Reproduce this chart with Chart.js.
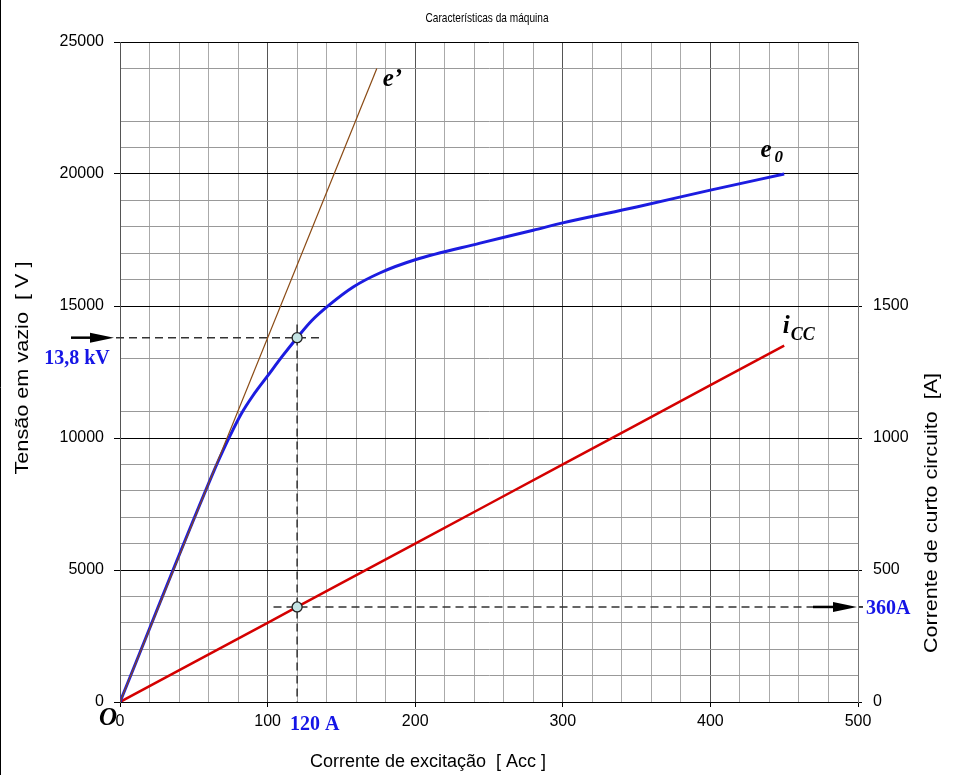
<!DOCTYPE html>
<html>
<head>
<meta charset="utf-8">
<title>Características da máquina</title>
<script src="https://cdn.jsdelivr.net/npm/chart.js@4.4.1/dist/chart.umd.min.js"></script>
<style>
  html, body { margin: 0; padding: 0; background: #fff; }
  #wrap { width: 959px; height: 775px; position: relative; }
</style>
</head>
<body>
<div id="wrap"><canvas id="machineChart"></canvas></div>
<script>
// curva de vazio e0 : corrente de excitação [A] -> tensão [V]
const excCurrent = [0, 64, 70, 76, 82, 90, 100, 110, 120, 130, 142, 158, 176, 200, 244, 280, 300, 350, 400, 450];
const noLoadVolts = [0, 8800, 9550, 10250, 10900, 11600, 12350, 13100, 13800, 14450, 15050, 15720, 16250, 16750, 17380, 17870, 18150, 18750, 19390, 20000];

// recta do entreferro e'
const airGapCurrent = [0, 174];
const airGapVolts = [0, 24000];

// curto circuito icc [A]
const scCurrent = [0, 50, 100, 120, 150, 200, 250, 300, 350, 400, 450];
const scAmps = [0, 150, 300, 360, 450, 600, 750, 900, 1050, 1200, 1350];

// ponto de funcionamento
const opCurrent = 120;
const opVolts = 13800;
const opAmps = 360;

// etiquetas dos eixos
const xTicks = [0, 100, 200, 300, 400, 500];
const yTicks = [0, 5000, 10000, 15000, 20000, 25000];
const y1Ticks = [0, 500, 1000, 1500];
const skippedGrid = [12000, 14000, 23000];

function pairs(xs, ys) {
    return xs.map((v, i) => ({ x: v, y: ys[i] }));
}

function line(ctx, x0, y0, x1, y1) {
    ctx.beginPath();
    ctx.moveTo(x0, y0);
    ctx.lineTo(x1, y1);
    ctx.stroke();
}

function arrow(ctx, x0, tip, y) {
    ctx.save();
    ctx.setLineDash([]);
    ctx.strokeStyle = '#000';
    ctx.fillStyle = '#000';
    ctx.lineWidth = 2.5;
    line(ctx, x0, y, tip - 22, y);
    ctx.beginPath();
    ctx.moveTo(tip - 24, y - 5);
    ctx.lineTo(tip, y);
    ctx.lineTo(tip - 24, y + 5);
    ctx.closePath();
    ctx.fill();
    ctx.restore();
}

// texto centrado, esticado para ocupar a largura pedida
function fitText(ctx, text, cx, cy, width, angle) {
    ctx.save();
    ctx.translate(cx, cy);
    ctx.rotate(angle);
    ctx.scale(width / ctx.measureText(text).width, 1);
    ctx.fillText(text, 0, 0);
    ctx.restore();
}

const serifBI = '"Liberation Serif", "Times New Roman", serif';
const sans = '"Liberation Sans", Arial, sans-serif';

const annotate = {
    id: 'annotate',
    beforeDatasetsDraw(chart) {
        const { ctx, chartArea, scales } = chart;
        const px = scales.x.getPixelForValue(opCurrent);
        const pv = scales.y.getPixelForValue(opVolts);
        const pa = scales.y1.getPixelForValue(opAmps);
        ctx.save();
        ctx.strokeStyle = '#333';
        ctx.lineWidth = 1.5;
        ctx.setLineDash([8, 5]);
        line(ctx, chartArea.left - 4, pv, scales.x.getPixelForValue(136), pv);
        line(ctx, px, scales.y.getPixelForValue(14300), px, chartArea.bottom);
        line(ctx, scales.x.getPixelForValue(104), pa, chartArea.right - 45, pa);
        ctx.restore();
    },
    afterDraw(chart) {
        const { ctx, chartArea, scales } = chart;
        const px = scales.x.getPixelForValue(opCurrent);
        const pv = scales.y.getPixelForValue(opVolts);
        const pa = scales.y1.getPixelForValue(opAmps);
        ctx.save();

        // moldura esquerda da imagem
        ctx.strokeStyle = '#000';
        ctx.lineWidth = 1;
        line(ctx, 0.5, 0, 0.5, chart.height);

        // setas
        arrow(ctx, chartArea.left - 49, chartArea.left - 6, pv);
        arrow(ctx, chartArea.right - 45, chartArea.right - 1, pa);
        ctx.lineWidth = 1.5;
        line(ctx, chartArea.right + 1, pa, chartArea.right + 5, pa);

        // títulos
        ctx.fillStyle = '#000';
        ctx.textAlign = 'center';
        ctx.textBaseline = 'middle';
        ctx.font = '13px ' + sans;
        fitText(ctx, 'Características da máquina', 487, 18, 123, 0);
        ctx.font = '18px ' + sans;
        fitText(ctx, 'Corrente de excitação  [ Acc ]', 428, 762, 236, 0);
        fitText(ctx, 'Tensão em vazio  [ V ]', 23, 368, 213, -Math.PI / 2);
        fitText(ctx, 'Corrente de curto circuito  [A]', 932, 513, 280, -Math.PI / 2);

        // nomes das curvas
        ctx.textAlign = 'left';
        ctx.textBaseline = 'alphabetic';
        ctx.font = 'bold italic 25px ' + serifBI;
        ctx.fillText('e’', scales.x.getPixelForValue(178), scales.y.getPixelForValue(23350));
        const ex = scales.x.getPixelForValue(434);
        const ey = scales.y.getPixelForValue(20640);
        ctx.fillText('e', ex, ey);
        ctx.font = 'bold italic 17px ' + serifBI;
        ctx.fillText('0', ex + 14, ey + 5);
        const ix = scales.x.getPixelForValue(449);
        const iy = scales.y1.getPixelForValue(1398);
        ctx.font = 'bold italic 25px ' + serifBI;
        ctx.fillText('i', ix, iy);
        ctx.font = 'bold italic 18px ' + serifBI;
        ctx.fillText('CC', ix + 8, iy + 7);
        ctx.font = 'bold italic 25px ' + serifBI;
        ctx.fillText('O', chartArea.left - 21, chartArea.bottom + 23);

        // valores do ponto de funcionamento
        ctx.fillStyle = '#1515e6';
        ctx.font = 'bold 20px ' + serifBI;
        ctx.textAlign = 'center';
        ctx.fillText('13,8 kV', chartArea.left - 43, pv + 26);
        ctx.textAlign = 'left';
        ctx.fillText('360A', chartArea.right + 8, pa + 7);
        ctx.fillText('120 A', px - 7, chartArea.bottom + 28);
        ctx.restore();
    }
};

const ctx = document.getElementById('machineChart').getContext('2d');
const chart = new Chart(ctx, {
    type: 'scatter',
    data: {
        datasets: [
            {
                label: 'ponto',
                data: [{ x: opCurrent, y: opVolts }],
                yAxisID: 'y',
                pointRadius: 5,
                backgroundColor: '#c4e4e4',
                borderColor: '#222',
                borderWidth: 1.3,
                order: 0
            },
            {
                label: 'ponto cc',
                data: [{ x: opCurrent, y: opAmps }],
                yAxisID: 'y1',
                pointRadius: 5,
                backgroundColor: '#c4e4e4',
                borderColor: '#222',
                borderWidth: 1.3,
                order: 0
            },
            {
                label: "e'",
                data: pairs(airGapCurrent, airGapVolts),
                yAxisID: 'y',
                showLine: true,
                pointRadius: 0,
                borderColor: '#8a4a14',
                borderWidth: 1.2,
                order: 1
            },
            {
                label: 'e0',
                data: pairs(excCurrent, noLoadVolts),
                yAxisID: 'y',
                showLine: true,
                pointRadius: 0,
                borderColor: '#1c1ce0',
                borderWidth: 3,
                cubicInterpolationMode: 'monotone',
                order: 2
            },
            {
                label: 'icc',
                data: pairs(scCurrent, scAmps),
                yAxisID: 'y1',
                showLine: true,
                pointRadius: 0,
                borderColor: '#d40000',
                borderWidth: 2.5,
                order: 2
            }
        ]
    },
    options: {
        responsive: true,
        maintainAspectRatio: false,
        animation: false,
        layout: { padding: { top: 42, left: 0, right: 0, bottom: 0 } },
        plugins: {
            legend: { display: false },
            title: { display: false },
            tooltip: { enabled: false }
        },
        scales: {
            x: {
                type: 'linear',
                min: 0,
                max: 500,
                afterFit: s => { s.height = 73; },
                border: { color: '#000' },
                grid: {
                    color: c => c.tick.value % 100 === 0 ? '#555' : '#aaa',
                    tickColor: c => c.tick.value % 100 === 0 ? '#000' : 'rgba(0,0,0,0)',
                    tickLength: 5
                },
                ticks: {
                    stepSize: 20,
                    autoSkip: false,
                    maxRotation: 0,
                    padding: 5,
                    color: '#000',
                    font: { family: sans, size: 16 },
                    callback: v => xTicks.includes(v) ? v : ''
                }
            },
            y: {
                type: 'linear',
                position: 'left',
                min: 0,
                max: 25000,
                afterFit: s => { s.width = 120; },
                border: { color: '#555' },
                grid: {
                    color: c => {
                        const v = c.tick.value;
                        if (v % 5000 === 0) return '#000';
                        return skippedGrid.includes(v) ? 'rgba(0,0,0,0)' : '#999';
                    },
                    tickColor: c => c.tick.value % 5000 === 0 ? '#000' : 'rgba(0,0,0,0)',
                    tickLength: 6
                },
                ticks: {
                    stepSize: 1000,
                    autoSkip: false,
                    padding: 10,
                    color: '#000',
                    font: { family: sans, size: 16 },
                    callback: v => yTicks.includes(v) ? v : ''
                }
            },
            y1: {
                type: 'linear',
                position: 'right',
                min: 0,
                max: 2500,
                afterFit: s => { s.width = 101; },
                border: { color: '#777' },
                grid: {
                    drawOnChartArea: false,
                    tickColor: c => y1Ticks.includes(c.tick.value) ? '#000' : 'rgba(0,0,0,0)',
                    tickLength: 4
                },
                ticks: {
                    stepSize: 500,
                    autoSkip: false,
                    padding: 11,
                    color: '#000',
                    font: { family: sans, size: 16 },
                    callback: v => y1Ticks.includes(v) ? v : ''
                }
            }
        }
    },
    plugins: [annotate]
});
</script>
</body>
</html>
